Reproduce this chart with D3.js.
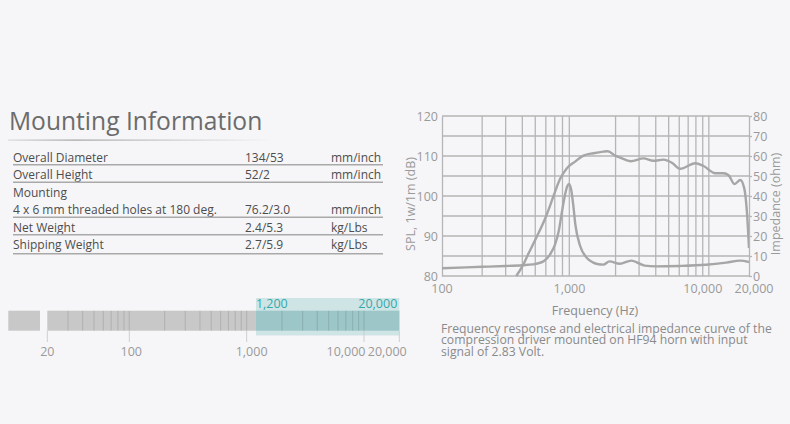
<!DOCTYPE html>
<html>
<head>
<meta charset="utf-8">
<script src="https://cdn.jsdelivr.net/npm/d3@7"></script>
<style>
  html, body { margin: 0; padding: 0; background: #f6f6f8; }
  svg { display: block; font-family: "Open Sans", sans-serif; }
</style>
</head>
<body>
<div id="chart"></div>
<script>
// spec table
var specNames = ["Overall Diameter", "Overall Height", "Mounting", "4 x 6 mm threaded holes at 180 deg.", "Net Weight", "Shipping Weight"];
var specValues = ["134/53", "52/2", "", "76.2/3.0", "2.4/5.3", "2.7/5.9"];
var specUnits = ["mm/inch", "mm/inch", "", "mm/inch", "kg/Lbs", "kg/Lbs"];

// frequency range bar
var rangeTicks = [20, 100, 1000, 10000, 20000];
var rangeTickLabels = ["20", "100", "1,000", "10,000", "20,000"];
var rangeLow = 1200;
var rangeHigh = 20000;

// response curve (Hz, dB)
var splFreq = [360, 400, 445, 513, 592, 646, 704, 768, 861, 995, 1148, 1365, 1620, 1750, 1985, 2164, 2600, 3238, 3847, 4574, 5287, 6101, 7906, 9124, 11170, 12890, 14060, 15590, 17200, 18430, 19320, 20000];
var splDb = [80, 82.4, 85.6, 89.8, 94.3, 97.6, 101.1, 104.3, 106.9, 108.6, 110.1, 110.7, 111.1, 111.2, 110.1, 109.6, 108.7, 109.4, 108.8, 109.1, 108.3, 106.8, 108.2, 107.5, 105.7, 105.7, 105.2, 103.0, 104.0, 101.9, 95.7, 87.0];

// impedance curve (Hz, ohm)
var impFreq = [100, 200, 300, 400, 480, 576, 646, 704, 750, 790, 835, 870, 897, 930, 965, 1000, 1085, 1220, 1350, 1490, 1620, 1800, 2150, 2620, 3300, 4000, 6000, 9500, 13500, 17200, 20000];
var impOhm = [3.9, 4.6, 5.0, 5.4, 5.8, 7.3, 10.8, 15.8, 22.5, 31.5, 40.5, 45, 46, 43, 35, 25.5, 15, 9, 6.8, 5.9, 5.7, 7.3, 6.1, 7.7, 5.2, 4.8, 5.0, 5.6, 6.7, 7.7, 7.0];

var splTicks = [80, 90, 100, 110, 120];
var ohmTicks = [0, 10, 20, 30, 40, 50, 60, 70, 80];
var freqTicks = [100, 1000, 10000, 20000];
var freqTickLabels = ["100", "1,000", "10,000", "20,000"];

var width = 790;
var height = 424;

var svg = d3.select("#chart")
    .append("svg")
    .attr("width", width)
    .attr("height", height);

svg.append("rect")
    .attr("width", width)
    .attr("height", height)
    .attr("fill", "#f6f6f8");

// ---------- title + table ----------
var grad = svg.append("defs").append("linearGradient")
    .attr("id", "titleLine");
grad.append("stop").attr("offset", "0%").attr("stop-color", "#9a9a9a").attr("stop-opacity", 0.3);
grad.append("stop").attr("offset", "25%").attr("stop-color", "#9a9a9a").attr("stop-opacity", 0.9);
grad.append("stop").attr("offset", "100%").attr("stop-color", "#9a9a9a").attr("stop-opacity", 0);

svg.append("text")
    .attr("x", 9)
    .attr("y", 130)
    .attr("font-size", 24.6)
    .attr("fill", "#6b6b6b")
    .text("Mounting Information");

svg.append("rect")
    .attr("x", 8)
    .attr("y", 139.5)
    .attr("width", 265)
    .attr("height", 1.2)
    .attr("fill", "url(#titleLine)");

var rowY = d3.scaleLinear().domain([0, 1]).range([161.7, 179.2]);

var rows = svg.selectAll("g.row")
    .data(specNames)
    .enter()
    .append("g")
    .attr("class", "row")
    .attr("transform", function(d, i) { return "translate(0," + rowY(i) + ")"; });

rows.append("text")
    .attr("x", 13)
    .attr("font-size", 12)
    .attr("fill", "#4d4d4d")
    .text(function(d) { return d; });

rows.append("text")
    .attr("x", 245)
    .attr("font-size", 12)
    .attr("fill", "#4d4d4d")
    .text(function(d, i) { return specValues[i]; });

rows.append("text")
    .attr("x", 331)
    .attr("font-size", 12)
    .attr("fill", "#4d4d4d")
    .text(function(d, i) { return specUnits[i]; });

rows.filter(function(d, i) { return specValues[i] !== ""; })
    .append("line")
    .attr("x1", 13)
    .attr("x2", 383)
    .attr("y1", function(d) { return specNames.indexOf(d) === 5 ? 4.5 : 3; })
    .attr("y2", function(d) { return specNames.indexOf(d) === 5 ? 4.5 : 3; })
    .attr("stroke", "#a9a9a9")
    .attr("stroke-width", 1.4);

// ---------- frequency range bar ----------
var xb = d3.scaleLog().domain([20, 20000]).range([47.3, 399.3]);
var barTop = 310.7, barBottom = 330.7;

svg.append("rect")
    .attr("x", xb(20) - 39)
    .attr("y", barTop)
    .attr("width", 31.7)
    .attr("height", barBottom - barTop)
    .attr("fill", "#c8c8c8");

svg.append("rect")
    .attr("x", xb(20))
    .attr("y", barTop)
    .attr("width", xb(20000) - xb(20))
    .attr("height", barBottom - barTop)
    .attr("fill", "#c8c8c8");

svg.append("rect")
    .attr("x", xb(rangeLow))
    .attr("y", 298)
    .attr("width", xb(rangeHigh) - xb(rangeLow))
    .attr("height", 335.5 - 298)
    .attr("fill", "#cfe4e5");

svg.append("rect")
    .attr("x", xb(rangeLow))
    .attr("y", barTop)
    .attr("width", xb(rangeHigh) - xb(rangeLow))
    .attr("height", barBottom - barTop)
    .attr("fill", "#9cc6c8");

var barLines = [];
[10, 100, 1000].forEach(function(dec) {
    for (var m = 1; m <= 9; m++) {
        if (m * dec > 20) barLines.push(m * dec);
    }
});
barLines.push(10000);

svg.selectAll("line.barline")
    .data(barLines)
    .enter()
    .append("line")
    .attr("class", "barline")
    .attr("x1", function(d) { return xb(d); })
    .attr("x2", function(d) { return xb(d); })
    .attr("y1", barTop)
    .attr("y2", barBottom)
    .attr("stroke", "rgba(0,0,0,0.1)")
    .attr("stroke-width", 1.2);

svg.selectAll("line.bartick")
    .data(rangeTicks)
    .enter()
    .append("line")
    .attr("class", "bartick")
    .attr("x1", function(d) { return xb(d); })
    .attr("x2", function(d) { return xb(d); })
    .attr("y1", barBottom)
    .attr("y2", 342)
    .attr("stroke", "#cfcfcf")
    .attr("stroke-width", 1);

var barLabelShift = [0, 2, 5, -18, -12];
svg.selectAll("text.barlabel")
    .data(rangeTicks)
    .enter()
    .append("text")
    .attr("class", "barlabel")
    .attr("x", function(d) { return xb(d); })
    .attr("dx", function(d, i) { return barLabelShift[i]; })
    .attr("y", 355.5)
    .attr("text-anchor", "middle")
    .attr("font-size", 12.5)
    .attr("fill", "#9a9a9a")
    .text(function(d, i) { return rangeTickLabels[i]; });

svg.append("text")
    .attr("x", xb(rangeLow))
    .attr("y", 308)
    .attr("font-size", 12.5)
    .attr("fill", "#35a9aa")
    .text(d3.format(",")(rangeLow));

svg.append("text")
    .attr("x", xb(rangeHigh) - 2)
    .attr("y", 308)
    .attr("text-anchor", "end")
    .attr("font-size", 12.5)
    .attr("fill", "#35a9aa")
    .text(d3.format(",")(rangeHigh));

// ---------- response chart ----------
var x = d3.scaleLog().domain([100, 20000]).range([442, 749]);
var yDb = d3.scaleLinear().domain([80, 120]).range([276, 116]);
var yOhm = d3.scaleLinear().domain([0, 80]).range([276, 116]);

var gridColor = "#b5b5b5";

var vGrid = [];
[100, 1000].forEach(function(dec) {
    for (var m = 2; m <= 9; m++) vGrid.push(m * dec);
});
vGrid.push(10000);

svg.selectAll("line.vgrid")
    .data(vGrid)
    .enter()
    .append("line")
    .attr("class", "vgrid")
    .attr("x1", function(d) { return x(d); })
    .attr("x2", function(d) { return x(d); })
    .attr("y1", yDb(120))
    .attr("y2", yDb(80))
    .attr("stroke", gridColor)
    .attr("stroke-width", 1.3);

svg.selectAll("line.hgrid")
    .data(d3.range(80, 121, 5))
    .enter()
    .append("line")
    .attr("class", "hgrid")
    .attr("x1", x(100))
    .attr("x2", x(20000))
    .attr("y1", function(d) { return yDb(d); })
    .attr("y2", function(d) { return yDb(d); })
    .attr("stroke", gridColor)
    .attr("stroke-width", 1.3);

var leftAxis = d3.axisLeft(yDb).tickValues(splTicks).tickSize(0).tickPadding(4);
var rightAxis = d3.axisRight(yOhm).tickValues(ohmTicks).tickSizeInner(3).tickSizeOuter(0).tickPadding(1);

var gL = svg.append("g")
    .attr("transform", "translate(" + x(100) + ",0)")
    .call(leftAxis);
var gR = svg.append("g")
    .attr("transform", "translate(" + x(20000) + ",0)")
    .call(rightAxis);

[gL, gR].forEach(function(g) {
    g.select(".domain").attr("stroke", gridColor).attr("stroke-width", 1.3);
    g.selectAll(".tick line").attr("stroke", gridColor).attr("stroke-width", 1.3);
    g.selectAll(".tick text")
        .attr("fill", "#9a9a9a")
        .attr("font-size", 12.5)
        .attr("font-family", "Open Sans, sans-serif");
});

var freqLabelShift = [0, -6, -6, 5];
svg.selectAll("text.flabel")
    .data(freqTicks)
    .enter()
    .append("text")
    .attr("class", "flabel")
    .attr("x", function(d) { return x(d); })
    .attr("dx", function(d, i) { return freqLabelShift[i]; })
    .attr("y", 292.5)
    .attr("text-anchor", "middle")
    .attr("font-size", 12.5)
    .attr("fill", "#9a9a9a")
    .text(function(d, i) { return freqTickLabels[i]; });

svg.append("text")
    .attr("x", 595)
    .attr("y", 315)
    .attr("text-anchor", "middle")
    .attr("font-size", 12.5)
    .attr("fill", "#8a8a8a")
    .text("Frequency (Hz)");

svg.append("text")
    .attr("transform", "translate(415,204) rotate(-90)")
    .attr("text-anchor", "middle")
    .attr("font-size", 12.5)
    .attr("fill", "#9a9a9a")
    .text("SPL, 1w/1m (dB)");

svg.append("text")
    .attr("transform", "translate(780,204) rotate(-90)")
    .attr("text-anchor", "middle")
    .attr("font-size", 12.5)
    .attr("fill", "#9a9a9a")
    .text("Impedance (ohm)");

svg.append("clipPath")
    .attr("id", "plotClip")
    .append("rect")
    .attr("x", x(100))
    .attr("y", yDb(120))
    .attr("width", x(20000) - x(100))
    .attr("height", yDb(80) - yDb(120) + 1);

var splLine = d3.line()
    .x(function(d, i) { return x(splFreq[i]); })
    .y(function(d) { return yDb(d); })
    .curve(d3.curveMonotoneX);

var impLine = d3.line()
    .x(function(d, i) { return x(impFreq[i]); })
    .y(function(d) { return yOhm(d); })
    .curve(d3.curveMonotoneX);

svg.append("path")
    .datum(impOhm)
    .attr("clip-path", "url(#plotClip)")
    .attr("d", impLine)
    .attr("fill", "none")
    .attr("stroke", "#a6a6a6")
    .attr("stroke-width", 2.4);

svg.append("path")
    .datum(splDb)
    .attr("clip-path", "url(#plotClip)")
    .attr("d", splLine)
    .attr("fill", "none")
    .attr("stroke", "#a6a6a6")
    .attr("stroke-width", 2.4);

// caption
var caption = ["Frequency response and electrical impedance curve of the",
               "compression driver mounted on HF94 horn with input",
               "signal of 2.83 Volt."];
svg.selectAll("text.caption")
    .data(caption)
    .enter()
    .append("text")
    .attr("class", "caption")
    .attr("x", 441)
    .attr("y", function(d, i) { return 332.5 + i * 11.7; })
    .attr("font-size", 12.2)
    .attr("fill", "#8a8a8a")
    .text(function(d) { return d; });
</script>
</body>
</html>
